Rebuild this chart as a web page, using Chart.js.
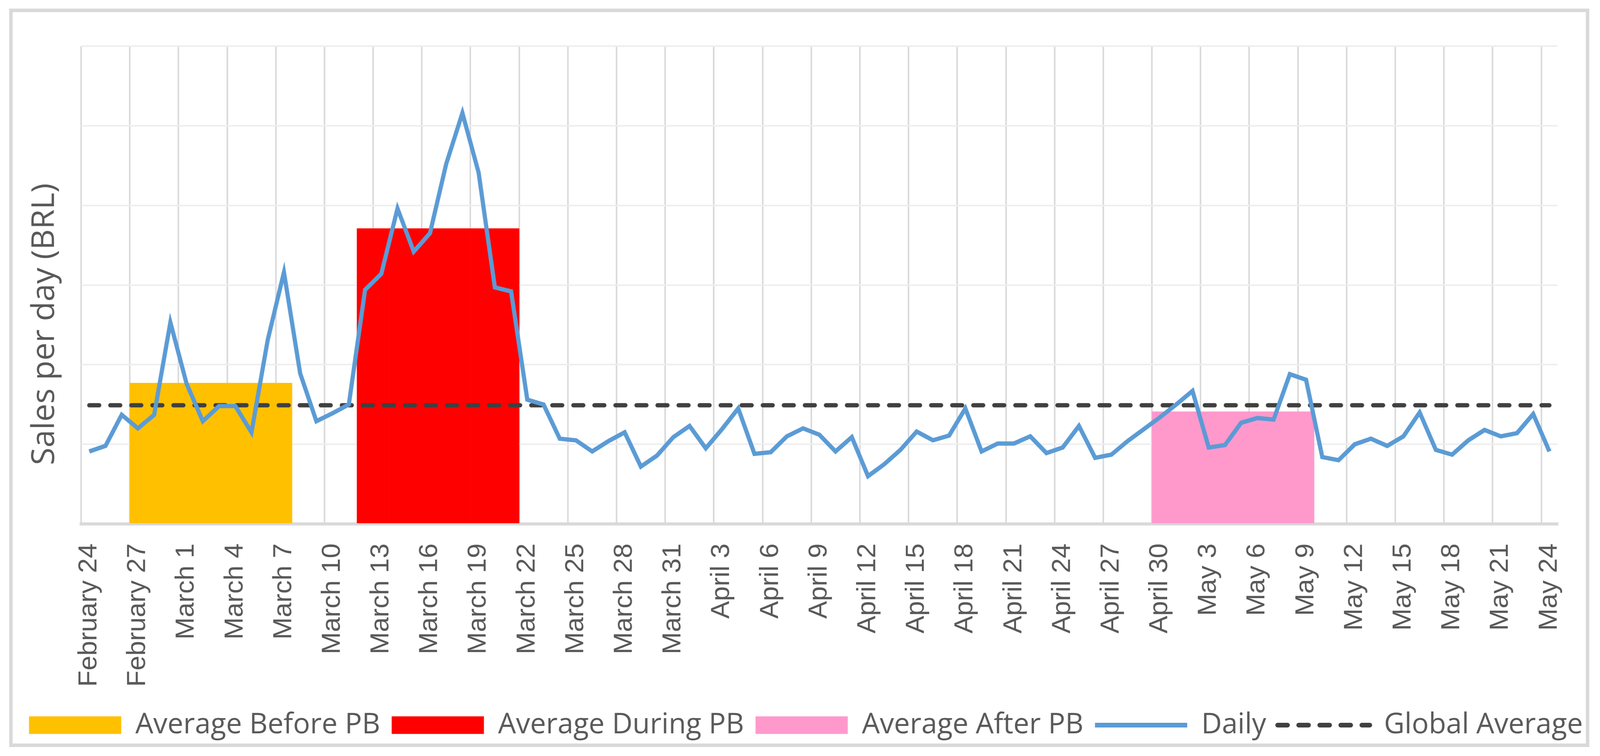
<!DOCTYPE html>
<html>
<head>
<meta charset="utf-8">
<script src="https://cdn.jsdelivr.net/npm/chart.js@4/dist/chart.umd.min.js"></script>
<style>
html,body{margin:0;padding:0;background:#ffffff;overflow:hidden;}
canvas{display:block;}
</style>
</head>
<body>
<canvas id="c" width="4181" height="1935" style="width:4181px;height:1935px"></canvas>
<script>
// ---------- DATA ----------
const dayLabels = [
  'February 24','February 25','February 26','February 27','February 28','February 29',
  'March 1','March 2','March 3','March 4','March 5','March 6','March 7','March 8','March 9','March 10',
  'March 11','March 12','March 13','March 14','March 15','March 16','March 17','March 18','March 19','March 20',
  'March 21','March 22','March 23','March 24','March 25','March 26','March 27','March 28','March 29','March 30','March 31',
  'April 1','April 2','April 3','April 4','April 5','April 6','April 7','April 8','April 9','April 10',
  'April 11','April 12','April 13','April 14','April 15','April 16','April 17','April 18','April 19','April 20',
  'April 21','April 22','April 23','April 24','April 25','April 26','April 27','April 28','April 29','April 30',
  'May 1','May 2','May 3','May 4','May 5','May 6','May 7','May 8','May 9','May 10',
  'May 11','May 12','May 13','May 14','May 15','May 16','May 17','May 18','May 19','May 20',
  'May 21','May 22','May 23','May 24'
];
const dailySales = [
  91, 98, 137, 120, 137, 253, 176, 129, 148, 148,
  115, 231, 316, 189, 129, 139, 150, 294, 314, 396,
  342, 365, 452, 516, 441, 297, 292, 156, 150, 107,
  105, 91, 104, 115, 72, 86, 109, 123, 95, 119,
  145, 88, 90, 110, 120, 112, 91, 109, 60, 75,
  93, 116, 105, 111, 145, 91, 101, 101, 110, 89,
  96, 123, 83, 87, 104, 119, 134, 150, 167, 96,
  99, 127, 133, 131, 188, 181, 84, 80, 100, 107,
  98, 110, 140, 93, 87, 105, 118, 110, 114, 138,
  91
];
const globalAverage = 149;
const periodNames = ['Average Before PB', 'Average During PB', 'Average After PB'];
const periodStart = ['February 27', 'March 12', 'April 30'];
const periodEnd = ['March 7', 'March 21', 'May 9'];
const periodAverage = [177, 371, 141];
const labelEvery = 3;
const yMax = 600;
const yStep = 100;
const yTitle = 'Sales per day (BRL)';

// ---------- STYLES ----------
const periodColors = ['#FFC000', '#FF0000', '#FF99CC'];
const dailyColor = '#5B9BD5';
const avgColor = '#404040';
const textColor = '#595959';

function periodSeries(k) {
  const s = dayLabels.indexOf(periodStart[k]);
  const e = dayLabels.indexOf(periodEnd[k]);
  return dayLabels.map((_, i) => (i >= s && i <= e) ? periodAverage[k] : null);
}
const barSets = periodNames.map((name, k) => ({
  type: 'bar',
  label: name,
  data: periodSeries(k),
  backgroundColor: periodColors[k],
  borderWidth: 0,
  barPercentage: 1,
  categoryPercentage: 1,
  grouped: false,
  yAxisID: 'y',
  order: 3
}));

const framePlugin = {
  id: 'frame',
  beforeDraw(chart) {
    const ctx = chart.ctx;
    ctx.save();
    ctx.fillStyle = '#ffffff';
    ctx.fillRect(0, 0, chart.width, chart.height);
    ctx.restore();
  },
  afterDraw(chart) {
    const ctx = chart.ctx;
    ctx.save();
    ctx.strokeStyle = '#D9D9D9';
    ctx.lineWidth = 9;
    ctx.strokeRect(28.5, 26.5, chart.width - 28.5 - 32.5, chart.height - 26.5 - 27.5);
    ctx.restore();
  }
};
const yTitlePlugin = {
  id: 'ytitle',
  afterDraw(chart) {
    const a = chart.chartArea;
    const ctx = chart.ctx;
    ctx.save();
    ctx.translate(a.left - 71, a.top + (a.bottom - a.top) * 0.582);
    ctx.rotate(-Math.PI / 2);
    ctx.font = '82px "Open Sans"';
    ctx.fillStyle = textColor;
    ctx.textAlign = 'center';
    ctx.textBaseline = 'alphabetic';
    ctx.fillText(yTitle, 0, 0);
    ctx.restore();
  }
};

function build() {
  const canvas = document.getElementById('c');
  // the photographed viewport may be narrower than the design width: fit it
  const vw = window.innerWidth || 4181;
  canvas.style.width = Math.min(vw, 4181) + 'px';
  canvas.style.height = '1935px';

  new Chart(canvas, {
    type: 'bar',
    data: {
      labels: dayLabels,
      datasets: [
        ...barSets,
        {
          type: 'line',
          label: 'Daily',
          data: dailySales,
          borderColor: dailyColor,
          backgroundColor: dailyColor,
          borderWidth: 11,
          pointRadius: 0,
          tension: 0,
          fill: false,
          borderJoinStyle: 'miter',
          yAxisID: 'y',
          order: 1
        },
        {
          type: 'line',
          label: 'Global Average',
          data: dayLabels.map(() => globalAverage),
          borderColor: avgColor,
          backgroundColor: avgColor,
          borderWidth: 11,
          borderDash: [26, 29],
          borderCapStyle: 'round',
          pointRadius: 0,
          tension: 0,
          fill: false,
          yAxisID: 'y',
          order: 2
        }
      ]
    },
    options: {
      responsive: false,
      maintainAspectRatio: false,
      devicePixelRatio: 1,
      animation: false,
      events: [],
      layout: { padding: { left: 40, right: 9, top: 118, bottom: 32 } },
      plugins: {
        tooltip: { enabled: false },
        title: { display: false },
        legend: {
          display: true,
          position: 'bottom',
          align: 'center',
          labels: {
            usePointStyle: true,
            pointStyleWidth: 241,
            boxHeight: 45,
            padding: 30,
            color: textColor,
            font: { family: 'Open Sans', size: 74 },
            generateLabels(chart) {
              return chart.data.datasets.map((ds, i) => {
                const isLine = ds.type === 'line';
                return {
                  text: ds.label,
                  datasetIndex: i,
                  hidden: false,
                  fontColor: textColor,
                  fillStyle: isLine ? 'rgba(0,0,0,0)' : ds.backgroundColor,
                  strokeStyle: isLine ? ds.borderColor : ds.backgroundColor,
                  lineWidth: isLine ? 12 : 0,
                  lineDash: ds.borderDash || [],
                  lineCap: ds.borderDash ? 'round' : 'butt',
                  pointStyle: isLine ? 'line' : 'rect',
                  rotation: 0
                };
              });
            }
          }
        }
      },
      scales: {
        x: {
          type: 'category',
          offset: true,
          afterFit(scale) { scale.height = 448; },
          grid: {
            offset: true,
            drawTicks: false,
            lineWidth: 4,
            color: (c) => (c.index % labelEvery === 0 ? '#D9D9D9' : 'rgba(0,0,0,0)')
          },
          border: { display: true, color: '#D9D9D9', width: 8 },
          ticks: {
            autoSkip: false,
            maxRotation: 90,
            minRotation: 90,
            padding: 50,
            color: textColor,
            font: { family: 'Liberation Sans', size: 68 },
            callback(v, i) { return i % labelEvery === 0 ? dayLabels[i] : ''; }
          }
        },
        y: {
          position: 'left',
          min: 0,
          max: yMax,
          afterFit(scale) { scale.width = 172; },
          grid: { color: '#EEEEEE', lineWidth: 4, drawTicks: false },
          border: { display: false },
          ticks: { display: false, stepSize: yStep }
        },
        yRight: {
          position: 'right',
          display: true,
          min: 0,
          max: yMax,
          afterFit(scale) { scale.width = 97; },
          grid: { display: false, drawTicks: false },
          border: { display: false },
          ticks: { display: false }
        }
      }
    },
    plugins: [framePlugin, yTitlePlugin]
  });
}

const fontsToLoad = ['74px "Open Sans"', '82px "Open Sans"', '68px "Liberation Sans"'];
Promise.all(fontsToLoad.map(f => document.fonts.load(f).catch(() => null)))
  .then(build, build);
</script>
</body>
</html>
